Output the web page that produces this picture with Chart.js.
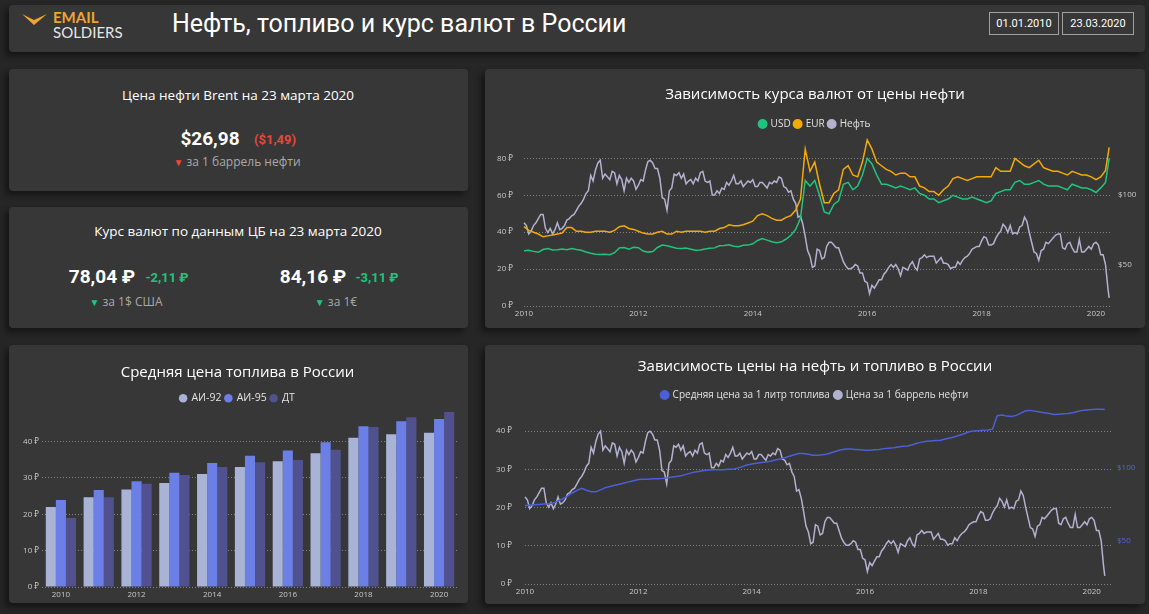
<!DOCTYPE html>
<html lang="ru">
<head>
<meta charset="utf-8">
<title>Нефть, топливо и курс валют в России</title>
<script src="https://cdn.jsdelivr.net/npm/chart.js@4.4.1/dist/chart.umd.min.js"></script>
<style>
    html, body { margin: 0; padding: 0; }
    body {
        width: 1149px; height: 614px; overflow: hidden; position: relative;
        background: #262626; font-family: 'Open Sans', 'Noto Sans', sans-serif; color: #fff;
    }
    .panel {
        position: absolute; background: #373737; border-radius: 4px;
        box-shadow: -4px 4px 6px rgba(0, 0, 0, 0.45);
    }
    .panel canvas { position: absolute; left: 0; top: 0; }
    .t { position: absolute; white-space: nowrap; transform: translate(-50%, -50%); line-height: 1; }
    .card-title { font-size: 13.5px; color: #fff; }
    .big { font-family: Roboto, sans-serif; font-weight: 700; font-size: 19px; color: #fff; }
    .delta { font-family: Roboto, sans-serif; font-weight: 700; font-size: 13px; }
    .red { color: #e5493d; }
    .green { color: #1fc47f; }
    .note { font-size: 12px; color: #a9a9a9; }
    .date {
        position: absolute; top: 12px; height: 23px; border: 1px solid #a0a0a0; box-sizing: border-box;
        font-family: Roboto, sans-serif; font-size: 11px; color: #fff; text-align: center; line-height: 21px;
    }
</style>
</head>
<body>

<div class="panel" style="left:9px; top:5px; width:1136px; height:47px;"></div>
<svg style="position:absolute; left:20px; top:12px;" width="30" height="16" viewBox="0 0 30 16">
    <polygon points="2,2 14,8 27,2 14,13" fill="#f0a530"/>
</svg>
<div style="position:absolute; left:53px; top:9px; font-family:Lato, sans-serif; font-weight:700; font-size:15px; color:#f0a530; line-height:16px;">EMAIL</div>
<div style="position:absolute; left:53px; top:24px; font-family:Lato, sans-serif; font-size:15px; color:#e6e6e6; line-height:16px;">SOLDIERS</div>
<div style="position:absolute; left:172px; top:9px; font-family:Roboto, sans-serif; font-size:25px; color:#fff; line-height:30px;">Нефть, топливо и курс валют в России</div>
<div class="date" style="left:989px; width:70px;">01.01.2010</div>
<div class="date" style="left:1062px; width:72px;">23.03.2020</div>

<div class="panel" style="left:9px; top:69px; width:459px; height:122px;"></div>
<div class="t card-title" style="left:238px; top:96px;">Цена нефти Brent на 23 марта 2020</div>
<div class="t big" style="left:210px; top:138px;">$26,98</div>
<div class="t delta red" style="left:275px; top:139px;">($1,49)</div>
<div class="t note" style="left:237px; top:162px;"><span class="red" style="font-size:10px;">▼</span> за 1 баррель нефти</div>

<div class="panel" style="left:9px; top:207px; width:459px; height:121px;"></div>
<div class="t card-title" style="left:238px; top:232px;">Курс валют по данным ЦБ на 23 марта 2020</div>
<div class="t big" style="left:102px; top:276px;">78,04 ₽</div>
<div class="t delta green" style="left:167px; top:277px;">-2,11 ₽</div>
<div class="t note" style="left:126px; top:302px;"><span class="green" style="font-size:10px;">▼</span> за 1$ США</div>
<div class="t big" style="left:313px; top:276px;">84,16 ₽</div>
<div class="t delta green" style="left:377px; top:277px;">-3,11 ₽</div>
<div class="t note" style="left:336px; top:302px;"><span class="green" style="font-size:10px;">▼</span> за 1€</div>

<div class="panel" style="left:9px; top:345px; width:459px; height:258px;">
    <canvas id="fuelBars" width="459" height="258"></canvas>
</div>
<div class="panel" style="left:485px; top:69px; width:660px; height:259px;">
    <canvas id="currencyChart" width="660" height="259"></canvas>
</div>
<div class="panel" style="left:485px; top:345px; width:660px; height:259px;">
    <canvas id="fuelOilChart" width="660" height="259"></canvas>
</div>

<script>
// Brent, twice a month (1st and 15th), Jan 2010 ... Mar 2020, last entry is 23 Mar 2020
const oil = [
    80, 78, 72, 74, 78, 80, 83, 86, 86, 76, 73, 76, 72, 75, 80, 75, 76, 78, 82, 83, 85, 86, 89, 92,
    94, 97, 101, 103, 114, 110, 118, 123, 125, 112, 115, 113, 111, 117, 116, 108, 114, 111, 103, 112, 109, 112, 110, 104,
    107, 111, 110, 118, 124, 125, 123, 119, 119, 112, 98, 97, 89, 103, 105, 115, 114, 116, 112, 115, 108, 110, 111, 108,
    112, 110, 116, 117, 110, 109, 110, 100, 100, 103, 101, 105, 104, 109, 107, 110, 114, 108, 108, 110, 106, 108, 110, 109,
    111, 106, 106, 109, 109, 107, 105, 109, 108, 110, 109, 113, 112, 106, 105, 102, 103, 97, 94, 84, 85, 79, 70, 60,
    56, 48, 49, 61, 60, 54, 55, 63, 66, 66, 64, 62, 62, 57, 52, 49, 47, 47, 48, 50, 49, 44, 44, 38,
    37, 29, 35, 33, 36, 39, 39, 43, 45, 48, 50, 48, 50, 47, 42, 48, 47, 46, 50, 52, 48, 46, 54, 55,
    57, 55, 56, 56, 56, 51, 53, 55, 51, 51, 50, 47, 48, 48, 52, 50, 53, 55, 56, 58, 61, 62, 63, 63,
    67, 70, 69, 64, 64, 65, 69, 72, 74, 79, 77, 73, 78, 72, 73, 72, 77, 78, 84, 81, 73, 66, 59, 58,
    53, 60, 61, 66, 65, 67, 69, 71, 72, 72, 62, 61, 65, 66, 62, 59, 59, 68, 59, 59, 61, 63, 61, 65,
    66, 64, 57, 57, 50, 33, 26
];
// ЦБ, monthly, Jan 2010 ... Mar 2020, last entry is 23 Mar 2020
const usd = [
    29.9, 30.2, 29.6, 29.1, 30.6, 31.2, 30.4, 30.5, 30.9, 30.5, 31.1, 30.6,
    30.2, 29.3, 28.6, 28.0, 27.9, 28.0, 27.8, 28.9, 31.5, 31.7, 30.8, 31.8,
    31.6, 29.8, 29.2, 29.5, 31.7, 33.0, 32.6, 32.0, 31.3, 31.1, 31.4, 30.8,
    30.2, 30.3, 30.9, 31.3, 31.5, 32.6, 32.8, 33.2, 32.4, 32.1, 32.9, 33.0,
    33.7, 35.5, 36.5, 35.7, 34.8, 34.3, 34.8, 36.3, 38.3, 41.5, 47.5, 68.0,
    65, 68, 60, 51, 50, 55, 57, 66, 67, 63, 65, 71,
    80, 77, 71, 66, 66, 65, 64, 65, 64, 63, 64, 61,
    60, 58, 58, 56, 57, 58, 60, 59, 58, 58, 59, 58,
    57, 56, 57, 61, 62, 63, 63, 67, 68, 66, 66, 67,
    68, 66, 65, 65, 65, 64, 63, 66, 65, 64, 64, 63,
    61.5, 64, 67, 80
];
const eur = [
    43, 41, 40, 39, 37.5, 38, 38.5, 39, 39.5, 42.5, 42.5, 40.5,
    40.5, 40, 40, 40.5, 40.5, 40.5, 40, 41, 43, 43.5, 42, 41.5,
    40.5, 39.5, 39, 39, 40, 40.5, 39, 39, 40.5, 40, 40.5, 40.5,
    40.5, 40.5, 40, 40.5, 40.5, 42, 42.5, 44, 43.5, 43.5, 44, 45,
    46, 49, 50, 49, 47.5, 46.5, 46.5, 48, 49, 52, 58, 85,
    73, 78, 66, 56, 56, 61, 63, 74, 76, 71, 70, 78,
    90, 85, 78, 76, 74, 73, 71, 72, 72, 70, 70, 65,
    64, 62, 62, 60, 63, 65, 69, 70, 69, 68, 69, 70,
    70, 70, 70, 75, 73, 73, 73, 80, 78, 76, 75, 77,
    79, 75, 74, 73, 73, 72, 71, 73, 72, 71, 71, 70,
    68.5, 70, 73.5, 86
];
const fuelAvg = [
    20.5, 20.6, 20.7, 20.8, 20.9, 21.0, 21.2, 21.7, 22.3, 23.0, 23.8, 24.5,
    25.0, 24.5, 24.1, 24.1, 24.6, 25.2, 25.5, 25.8, 26.1, 26.4, 26.7, 27.0,
    27.3, 27.4, 27.4, 27.5, 27.5, 27.6, 27.7, 27.9, 28.1, 28.3, 28.6, 29.0,
    29.3, 29.5, 29.7, 29.8, 29.9, 29.9, 29.9, 30.0, 30.0, 30.3, 30.7, 31.1,
    31.4, 31.6, 31.8, 31.9, 32.1, 32.4, 32.7, 33.0, 33.4, 33.8, 34.1, 34.1,
    33.9, 33.7, 33.7, 33.8, 34.0, 34.4, 34.8, 35.1, 35.3, 35.3, 35.2, 35.1,
    35.0, 35.0, 35.1, 35.2, 35.4, 35.5, 35.6, 35.8, 36.0, 36.1, 36.4, 36.8,
    37.1, 37.3, 37.4, 37.5, 37.6, 37.9, 38.2, 38.5, 38.9, 39.3, 39.8, 40.0,
    40.1, 40.2, 40.3, 40.5, 44.0, 44.2, 43.9, 43.8, 44.1, 44.7, 45.3, 45.4,
    45.2, 45.0, 44.8, 44.6, 44.3, 44.4, 44.5, 44.6, 44.8, 45.1, 45.4, 45.5,
    45.6, 45.7, 45.7, 45.6
];

// yearly average fuel prices
const years = ['2010', '2011', '2012', '2013', '2014', '2015', '2016', '2017', '2018', '2019', '2020'];
const ai92 = [22.0, 24.7, 26.8, 28.6, 31.1, 33.0, 34.6, 36.8, 41.0, 42.0, 42.4];
const ai95 = [23.9, 26.7, 29.1, 31.4, 34.1, 36.1, 37.5, 39.8, 44.2, 45.6, 46.2];
const dt = [19.0, 24.7, 28.4, 30.8, 33.0, 34.3, 34.9, 37.7, 44.0, 46.7, 48.1];

const yearTicks = [2010, 2012, 2014, 2016, 2018, 2020];
const rubTicksTop = [0, 20, 40, 60, 80];
const rubTicksBottom = [0, 10, 20, 30, 40];
const oilTicks = [50, 100];
const lastDay = 2020.23;

const colors = {
    usd: '#1fc47f',
    eur: '#f4aa06',
    oil: '#b4b1d0',
    fuel: '#4b5fd8',
    ai92: '#a9b3d6',
    ai95: '#6b7fe6',
    dt: '#51518f'
};

Chart.defaults.font.family = "'Open Sans', 'Noto Sans', sans-serif";
Chart.defaults.color = '#c8c8c8';
Chart.defaults.animation = false;

function toPoints(values, perYear) {
    return values.map((v, i) => ({ x: i === values.length - 1 ? lastDay : 2010 + i / perYear, y: v }));
}

function fixedTicks(list) {
    return scale => { scale.ticks = list.map(v => ({ value: v })); };
}

const gridDots = { color: '#808080', lineWidth: 1, drawTicks: false };
const noGrid = { display: false, drawTicks: false };
const tickFont = { size: 8 };

function lineDataset(label, values, perYear, color, axis) {
    return {
        label: label,
        data: toPoints(values, perYear),
        borderColor: color,
        backgroundColor: color,
        borderWidth: 1.5,
        pointRadius: 0,
        tension: 0,
        clip: 4,
        yAxisID: axis
    };
}

function legendOpts(size, padding) {
    return {
        position: 'top',
        labels: {
            usePointStyle: true,
            pointStyle: 'circle',
            boxWidth: 6,
            boxHeight: 6,
            padding: padding,
            color: '#e2e2e2',
            font: { size: size }
        }
    };
}

function titleOpts(text, top, bottom) {
    return {
        display: true,
        text: text,
        color: '#ffffff',
        font: { size: 15, weight: 'normal' },
        padding: { top: top, bottom: bottom }
    };
}

// курс валют и нефть
new Chart(document.getElementById('currencyChart'), {
    type: 'line',
    data: {
        datasets: [
            lineDataset('USD', usd, 12, colors.usd, 'y'),
            lineDataset('EUR', eur, 12, colors.eur, 'y'),
            lineDataset('Нефть', oil, 24, colors.oil, 'y1')
        ]
    },
    options: {
        responsive: false,
        layout: { padding: { left: 8, right: 8, top: 0, bottom: 6 } },
        plugins: {
            title: titleOpts('Зависимость курса валют от цены нефти', 17, 11),
            legend: legendOpts(10, 4),
            tooltip: { enabled: false }
        },
        scales: {
            x: {
                type: 'linear', min: 2010, max: 2020.28,
                grid: noGrid, border: { display: false },
                afterBuildTicks: fixedTicks(yearTicks),
                afterFit: s => { s.height = 16; },
                ticks: { font: tickFont, padding: 3, callback: v => String(v) }
            },
            y: {
                position: 'left', min: 0, max: 90.5,
                grid: gridDots, border: { display: false, dash: [1, 2] },
                afterBuildTicks: fixedTicks(rubTicksTop),
                afterFit: s => { s.width = 31; },
                ticks: { font: tickFont, padding: 11, callback: v => v + ' ₽' }
            },
            y1: {
                position: 'right', min: 20.2, max: 140.2,
                grid: noGrid, border: { display: false },
                afterBuildTicks: fixedTicks(oilTicks),
                afterFit: s => { s.width = 25; },
                ticks: { font: tickFont, padding: 6, color: '#c8c8c8', callback: v => '$' + v }
            }
        }
    }
});

// топливо и нефть
new Chart(document.getElementById('fuelOilChart'), {
    type: 'line',
    data: {
        datasets: [
            lineDataset('Средняя цена за 1 литр топлива', fuelAvg, 12, colors.fuel, 'y'),
            lineDataset('Цена за 1 баррель нефти', oil, 24, colors.oil, 'y1')
        ]
    },
    options: {
        responsive: false,
        layout: { padding: { left: 8, right: 8, top: 0, bottom: 5 } },
        plugins: {
            title: titleOpts('Зависимость цены на нефть и топливо в России', 13, 9),
            legend: legendOpts(10, 5),
            tooltip: { enabled: false }
        },
        scales: {
            x: {
                type: 'linear', min: 2010, max: 2020.34,
                grid: noGrid, border: { display: false },
                afterBuildTicks: fixedTicks(yearTicks),
                afterFit: s => { s.height = 15; },
                ticks: { font: tickFont, padding: 3, callback: v => String(v) }
            },
            y: {
                position: 'left', min: 0, max: 45.5,
                grid: gridDots, border: { display: false, dash: [1, 2] },
                afterBuildTicks: fixedTicks(rubTicksBottom),
                afterFit: s => { s.width = 32; },
                ticks: { font: tickFont, padding: 13, callback: v => v + ' ₽' }
            },
            y1: {
                position: 'right', min: 20.4, max: 139.5,
                grid: noGrid, border: { display: false },
                afterBuildTicks: fixedTicks(oilTicks),
                afterFit: s => { s.width = 26; },
                ticks: { font: tickFont, padding: 6, color: '#5166dc', callback: v => '$' + v }
            }
        }
    }
});

// средняя цена топлива по годам
new Chart(document.getElementById('fuelBars'), {
    type: 'bar',
    data: {
        labels: years,
        datasets: [
            { label: 'АИ-92', data: ai92, backgroundColor: colors.ai92, clip: 4 },
            { label: 'АИ-95', data: ai95, backgroundColor: colors.ai95, clip: 4 },
            { label: 'ДТ', data: dt, backgroundColor: colors.dt, clip: 4 }
        ]
    },
    options: {
        responsive: false,
        categoryPercentage: 0.8,
        barPercentage: 1,
        layout: { padding: { left: 8, right: 10, top: 0, bottom: 4 } },
        plugins: {
            title: titleOpts('Средняя цена топлива в России', 19, 7),
            legend: legendOpts(10.5, 4),
            tooltip: { enabled: false }
        },
        scales: {
            x: {
                grid: noGrid, border: { display: false },
                afterFit: s => { s.height = 12; },
                ticks: {
                    font: tickFont, padding: 3, autoSkip: false, maxRotation: 0,
                    callback: (v, i) => (i % 2 === 0 ? years[i] : '')
                }
            },
            y: {
                min: 0, max: 47.7,
                grid: gridDots, border: { display: false, dash: [1, 2] },
                afterBuildTicks: fixedTicks(rubTicksBottom),
                afterFit: s => { s.width = 25; },
                ticks: { font: tickFont, padding: 3, callback: v => v + ' ₽' }
            }
        }
    }
});
</script>
</body>
</html>
